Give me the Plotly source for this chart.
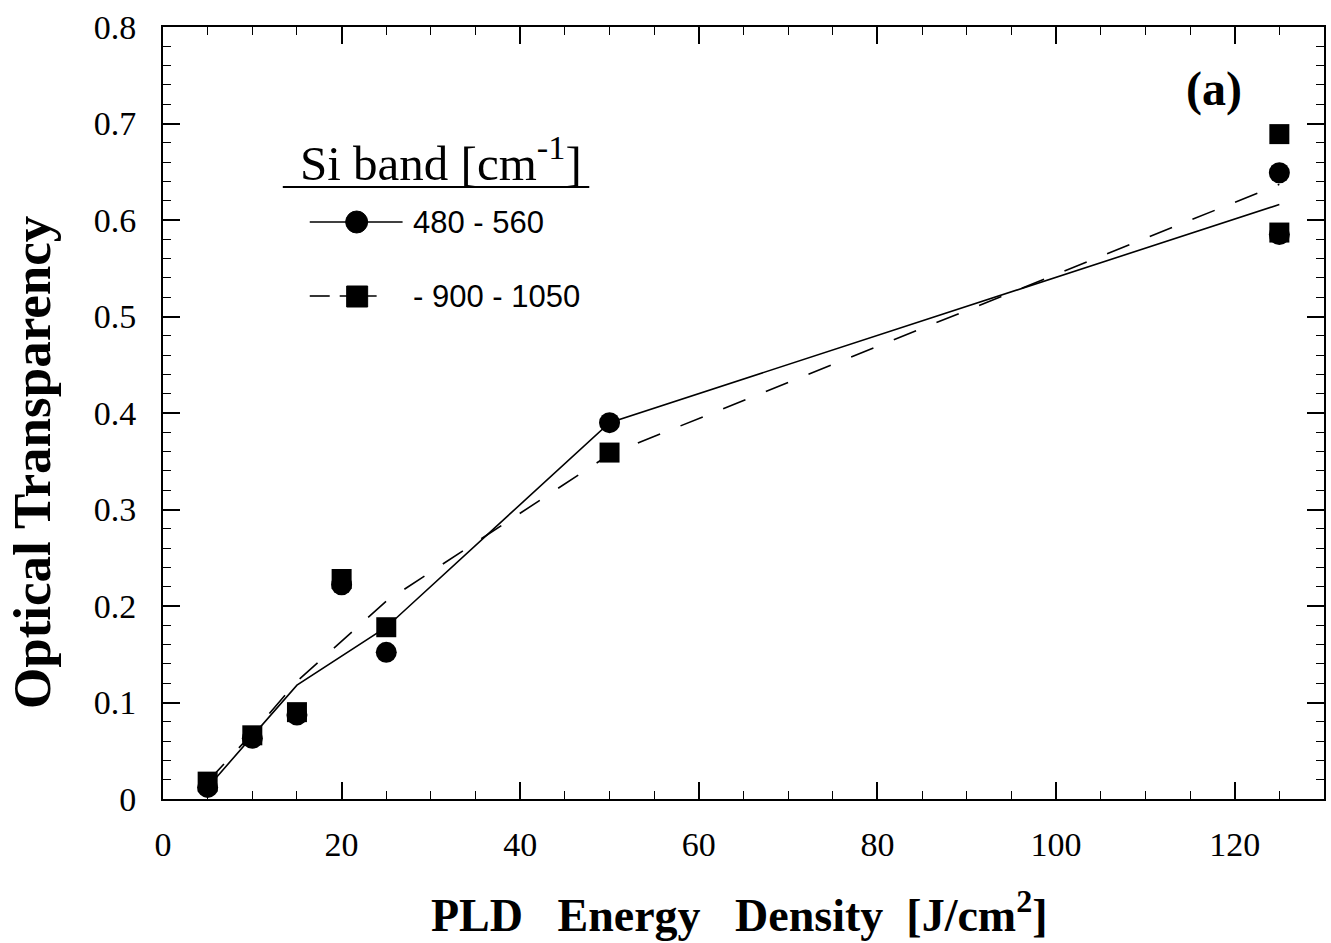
import plotly.graph_objects as go

# ---- data ----
energy = [5, 10, 15, 20, 25, 50, 125, 125]
band_480_560 = [0.012, 0.063, 0.087, 0.222, 0.152, 0.390, 0.649, 0.585]
band_900_1050 = [0.018, 0.066, 0.090, 0.228, 0.178, 0.359, 0.689, 0.587]

fit_x = [5, 10, 15, 25, 50, 125]
fit_480_560 = [0.012, 0.065, 0.118, 0.178, 0.390, 0.616]
fit_900_1050 = [0.018, 0.068, 0.122, 0.205, 0.357, 0.637]

xticks = [0, 20, 40, 60, 80, 100, 120]
yticks = [0, 0.1, 0.2, 0.3, 0.4, 0.5, 0.6, 0.7, 0.8]

W, H = 1331, 943
L, R, T, B = 163, 1326, 27, 799
SERIF = "Liberation Serif"
SANS = "Liberation Sans"
NB = "\u00a0"


def px(X):
    return (X - L) / (R - L)


def py(Y):
    return (B - Y) / (B - T)


fig = go.Figure()
fig.add_trace(go.Scatter(x=fit_x, y=fit_480_560, mode="lines",
                         line=dict(color="black", width=1.6), showlegend=False))
fig.add_trace(go.Scatter(x=fit_x, y=fit_900_1050, mode="lines",
                         line=dict(color="black", width=1.6, dash="24px,22px"), showlegend=False))
fig.add_trace(go.Scatter(x=energy, y=band_480_560, mode="markers",
                         marker=dict(symbol="circle", size=21, color="black"), showlegend=False))
fig.add_trace(go.Scatter(x=energy, y=band_900_1050, mode="markers",
                         marker=dict(symbol="square", size=20, color="black"), showlegend=False))

axis_common = dict(
    showline=True, linecolor="black", linewidth=2, mirror="allticks",
    ticks="inside", ticklen=17, tickwidth=1.5, tickcolor="black",
    showgrid=False, zeroline=False,
    tickfont=dict(family=SERIF, size=34, color="black"),
)

fig.update_xaxes(range=[0, 130], tickmode="array", tickvals=xticks,
                 ticktext=[str(v) for v in xticks],
                 minor=dict(dtick=5, tick0=0, ticks="inside", ticklen=8, tickwidth=1.2, tickcolor="black"),
                 ticklabelstandoff=14, **axis_common)
fig.update_yaxes(range=[0, 0.8], tickmode="array", tickvals=yticks,
                 ticktext=["0" if v == 0 else f"{v:.1f}" for v in yticks],
                 minor=dict(dtick=0.02, tick0=0, ticks="inside", ticklen=8, tickwidth=1.2, tickcolor="black"),
                 ticklabelstandoff=18, **axis_common)

xtitle = "<b>PLD" + NB * 3 + "Energy" + NB * 3 + "Density" + NB * 2 + "[J/cm<sup>2</sup>]</b>"

annotations = [
    dict(text=xtitle,
         xref="paper", yref="paper", x=px(740), y=0, yshift=-(912 - B),
         xanchor="center", yanchor="middle", showarrow=False,
         font=dict(family=SERIF, size=46, color="black")),
    dict(text="<b>Optical Transparency</b>", textangle=-90,
         xref="paper", yref="paper", x=0, xshift=-(L - 32), y=py(463),
         xanchor="center", yanchor="middle", showarrow=False,
         font=dict(family=SERIF, size=53, color="black")),
    dict(text="<b>(a)</b>", xref="paper", yref="paper", x=px(1216), y=py(89),
         xanchor="center", yanchor="middle", showarrow=False,
         font=dict(family=SERIF, size=48, color="black")),
    dict(text="Si band [cm<sup>-1</sup>]", xref="paper", yref="paper", x=px(441), y=py(159),
         xanchor="center", yanchor="middle", showarrow=False,
         font=dict(family=SERIF, size=49, color="black")),
    dict(text="480 - 560", xref="paper", yref="paper", x=px(411), y=py(222),
         xanchor="left", yanchor="middle", showarrow=False,
         font=dict(family=SANS, size=31, color="black")),
    dict(text="- 900 - 1050", xref="paper", yref="paper", x=px(411), y=py(296),
         xanchor="left", yanchor="middle", showarrow=False,
         font=dict(family=SANS, size=31, color="black")),
]

shapes = [
    # legend title underline
    dict(type="line", xref="paper", yref="paper", x0=px(283), x1=px(590), y0=py(187), y1=py(187),
         line=dict(color="black", width=2)),
    # legend sample lines
    dict(type="line", xref="paper", yref="paper", x0=px(310), x1=px(403), y0=py(222), y1=py(222),
         line=dict(color="black", width=1.6)),
    dict(type="line", xref="paper", yref="paper", x0=px(310), x1=px(330), y0=py(296), y1=py(296),
         line=dict(color="black", width=1.6)),
    dict(type="line", xref="paper", yref="paper", x0=px(340), x1=px(377), y0=py(296), y1=py(296),
         line=dict(color="black", width=1.6)),
    # legend markers
    dict(type="circle", xref="paper", yref="paper", x0=px(346), x1=px(368), y0=py(233), y1=py(211),
         fillcolor="black", line=dict(color="black", width=1)),
    dict(type="rect", xref="paper", yref="paper", x0=px(347), x1=px(368), y0=py(307), y1=py(286),
         fillcolor="black", line=dict(color="black", width=1)),
]

fig.update_layout(
    width=W, height=H, autosize=False,
    margin=dict(l=L, r=W - R, t=T, b=H - B, pad=0),
    paper_bgcolor="white", plot_bgcolor="white",
    showlegend=False,
    annotations=annotations, shapes=shapes,
)

fig.write_html("out.html")
